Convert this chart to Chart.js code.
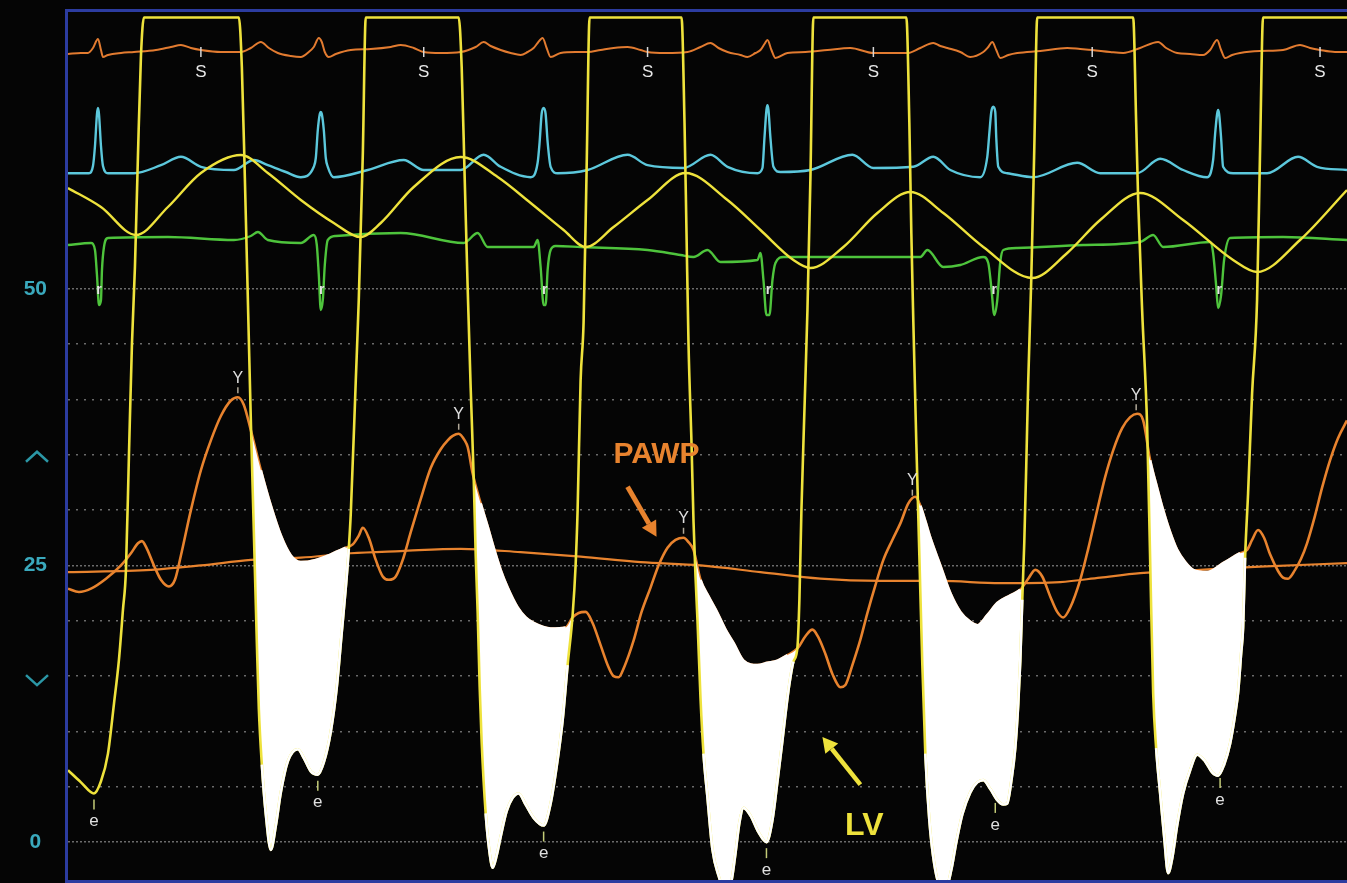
<!DOCTYPE html>
<html>
<head>
<meta charset="utf-8">
<title>LV and PAWP pressure tracing</title>
<script src="https://cdn.jsdelivr.net/npm/chart.js@4.4.1/dist/chart.umd.min.js"></script>
<style>
  html, body { margin: 0; padding: 0; background: #050505; }
  canvas { display: block; }
</style>
</head>
<body>
<canvas id="trace" width="1347" height="883"></canvas>
<script>
// time in samples (250 Hz, 4 ms each); pressures in mmHg
const lv = [[0,6.5],[13,5.4],[26,4.4],[33,5.5],[40,8],[46,12.5],[51,16.5],[55,21],[58,24.6],[61,35],[64,45],[67,52],[70,62],[73,71],[76,74.5],
  [171,74.5],[174,70],[177,60],[180,49],[183,38],[186,28],[189,18],[191,12],[194,7],[198,2.5],[203,-0.7],[208,1.5],[213,4.5],[220,7.3],[230,8.4],[236,7.6],[243,6.4],[250,6.1],[256,7.2],[263,10],[269,14],[274,19],[278,23],[281,26.5],[283,29.7],[288,41.7],[291,49],[295,62],[298,74.5],
  [391,74.5],[394,70],[397,60],[400,50],[403,41],[406,33],[408,26],[410,20.7],[412,14],[414,9],[418,2.6],[422,-1],[425,-2.3],[429,-1.2],[433,0.5],[439,2.8],[445,4],[451,4.4],[458,3.4],[466,2.2],[476,1.5],[483,3.5],[489,6.8],[495,11],[500,16],[505,20.5],[508,25],[510,30],[513,41.7],[516,47],[519,60.7],[522,74.5],
  [614,74.5],[617,65],[619,55],[621,45],[624,36],[626,29],[628,24],[630,20],[633,13],[636,8],[640,4],[645,-0.7],[651,-3],[658,-4.5],[664,-3.5],[668,-1],[672,1.8],[676,3.1],[683,2.4],[691,0.9],[699,0],[705,2],[710,5.5],[715,9.2],[721,13.7],[726,16.3],[730,17.6],[732,22],[734,30],[737,39],[740,48],[743,60],[746,74.5],
  [839,74.5],[842,65],[844,55],[846,47],[849,36],[852,26],[855,16],[858,8],[862,2],[867,-2],[873,-4],[879,-4],[884,-2.5],[889,0],[895,2.5],[903,4.5],[910,5.4],[916,5.6],[923,4.8],[930,3.8],[936,3.4],[940,3.5],[944,5.5],[948,8.5],[951,12.5],[953,16.4],[955,21.9],[957,27],[959,34],[961,41.7],[964,50.8],[967,62.5],[970,74.5],
  [1066,74.5],[1069,65],[1071,58],[1075,48],[1080,37.5],[1083,25.5],[1086,13.5],[1089,8.5],[1093,4.4],[1097,0.5],[1101,-2.8],[1105,-1.5],[1110,1.5],[1116,4.4],[1123,6.5],[1130,7.9],[1138,7.3],[1145,6.3],[1151,6],[1157,7],[1163,8.9],[1168,11.5],[1171,13.5],[1174,17],[1176,19.4],[1178,25.7],[1181,31.5],[1185,40.5],[1190,49],[1193,62.5],[1196,74.5],[1280,74.5]];

const pawp = [[0,22.9],[11,22.6],[23,22.9],[38,23.8],[53,25],[63,26.1],[70,27],[74,27.2],[79,26.5],[86,25],[93,23.7],[101,23.1],[107,23.7],[113,25.9],[123,30],[133,33.6],[143,36.3],[153,38.5],[163,39.9],[170,40.2],[176,39.5],[183,37.2],[193,33.6],[203,30.4],[213,27.7],[223,25.9],[233,25.3],[248,25.5],[263,26],[278,26.6],[285,26.9],[291,27.7],[295,28.4],[301,27.5],[308,25.5],[315,24],[321,23.7],[328,24],[335,25.5],[343,28],[353,31],[363,33.8],[373,35.5],[380,36.3],[385,36.7],[391,36.9],[397,36.3],[400,35.7],[405,33.3],[413,30.6],[420,28.5],[426,26.6],[433,24.6],[440,23],[450,21.2],[458,20.3],[466,19.8],[483,19.3],[498,19.4],[505,20.3],[511,20.7],[518,20.8],[525,19.8],[533,17.8],[541,15.8],[546,15],[551,14.9],[557,15.9],[566,18.2],[574,20.8],[583,23],[591,25],[600,26.6],[608,27.3],[616,27.5],[621,27.1],[626,26.4],[633,23.7],[641,22.2],[650,20.7],[658,19.2],[666,18],[676,16.4],[690,16],[700,16.2],[710,16.4],[720,16.9],[730,17.5],[738,18.6],[745,19.2],[751,18.5],[758,17],[765,15.2],[773,14],[778,14.2],[785,16],[793,18.3],[800,20.7],[808,23.2],[816,25.5],[825,27.3],[833,28.8],[841,30.6],[848,31.2],[853,30.4],[858,29],[863,27.5],[873,25],[883,22.5],[893,20.8],[903,19.9],[910,19.6],[920,20.5],[930,21.6],[943,22.3],[953,22.8],[961,23.8],[968,24.6],[975,24],[983,22.2],[990,20.8],[996,20.3],[1003,21.2],[1013,23.7],[1021,26.5],[1030,30],[1038,33],[1046,35.4],[1055,37.4],[1063,38.4],[1070,38.7],[1076,38.1],[1083,34.5],[1090,32],[1096,30],[1103,28],[1110,26.4],[1118,25.3],[1126,24.6],[1140,24.4],[1156,25.2],[1173,26.1],[1180,26.4],[1185,27.3],[1191,28.2],[1197,27.5],[1203,26],[1211,24.5],[1216,23.9],[1221,23.8],[1228,24.6],[1234,25.6],[1240,27],[1248,29.5],[1255,32],[1263,34.5],[1271,36.5],[1280,38.1]];

const pawpMean = [[0,24.4],[83,24.6],[133,25],[183,25.5],[233,25.7],[283,26.1],[333,26.3],[393,26.5],[453,26.2],[513,25.8],[573,25.3],[633,25],[693,24.4],[753,23.8],[813,23.6],[873,23.6],[933,23.4],[993,23.5],[1033,23.9],[1073,24.3],[1133,24.6],[1193,24.9],[1280,25.2]];

// auxiliary channels, arbitrary units around their own baselines
const auxPressure = [[0,-0.2],[13,-0.1],[20,-0.1],[25,0.4],[30,1.3],[33,0.2],[35,-0.5],[40,-0.3],[53,-0.1],[66,0],[88,0.2],[103,0.5],[113,0.7],[123,0.4],[133,0.2],[153,0],[173,0],[183,0.4],[193,1.0],[201,0.4],[210,-0.1],[223,-0.4],[233,-0.5],[241,0],[246,0.5],[251,1.4],[254,1.0],[257,0],[261,-0.5],[268,-0.2],[283,0.2],[303,0.3],[323,0.5],[333,0.7],[346,0.4],[356,0],[373,-0.1],[393,0],[408,0.5],[416,1.0],[423,0.6],[433,0.2],[443,-0.1],[453,-0.3],[460,0],[466,0.4],[470,0.9],[475,1.4],[479,0.4],[483,-0.5],[493,-0.1],[508,0],[520,0],[533,0.2],[546,0.4],[560,0.5],[573,0.2],[580,0],[598,-0.1],[620,0],[633,0.5],[643,0.9],[651,0.4],[660,0],[673,-0.3],[680,-0.5],[688,-0.1],[693,0.2],[697,0.8],[700,1.2],[704,0.2],[708,-0.6],[720,-0.1],[738,0],[760,0.2],[783,0.4],[806,-0.1],[823,-0.1],[840,-0.1],[853,0.4],[866,0.9],[873,0.6],[880,0.4],[893,0],[903,-0.5],[916,0],[921,0.5],[925,1.0],[929,0.2],[933,-0.6],[941,-0.3],[950,-0.1],[973,0.1],[1000,0.4],[1013,0.3],[1025,0.2],[1043,0],[1056,-0.1],[1073,0.4],[1091,1.0],[1099,0.4],[1110,-0.1],[1123,-0.2],[1136,-0.3],[1143,0.2],[1150,1.2],[1154,0.2],[1158,-0.6],[1165,-0.3],[1173,-0.1],[1193,0.1],[1216,0.2],[1233,0.7],[1243,0.4],[1253,0.2],[1268,0],[1280,0]];

const ecg = [[0,-0.08],[21,-0.08],[25,0.1],[27,0.6],[29,1.4],[30,1.55],[31,1.4],[33,0.6],[35,0.1],[40,-0.08],[66,-0.08],[93,0.12],[113,0.33],[133,0.08],[166,0],[186,0.25],[200,0.12],[218,-0.05],[233,-0.18],[246,0.08],[248,0.3],[250,1.0],[252,1.4],[253,1.45],[254,1.4],[256,1.0],[258,0.3],[260,0.08],[266,-0.18],[300,0],[336,0.25],[356,0],[393,0],[416,0.38],[433,0.08],[463,-0.18],[470,0.18],[472,0.7],[474,1.4],[476,1.55],[478,1.4],[480,0.7],[483,0.08],[490,-0.08],[520,0],[560,0.38],[580,0.12],[616,0.05],[643,0.38],[660,0.08],[690,-0.08],[695,0.05],[697,0.8],[699,1.5],[700,1.62],[701,1.5],[703,0.8],[706,0.08],[713,-0.05],[743,0],[785,0.38],[806,0.05],[846,0.08],[866,0.33],[883,0],[913,-0.18],[920,0.33],[922,0.9],[924,1.45],[926,1.58],[928,1.45],[929,0.8],[931,0.08],[940,-0.08],[966,-0.18],[1010,0.18],[1033,-0.08],[1070,-0.08],[1093,0.28],[1116,0],[1140,-0.18],[1146,0.25],[1148,0.9],[1150,1.4],[1151,1.5],[1152,1.4],[1154,0.8],[1156,0.08],[1166,-0.08],[1200,-0.08],[1231,0.33],[1250,0.08],[1280,0]];

const resp = [[0,0.84],[33,0.46],[68,-0.1],[100,0.46],[133,1.14],[173,1.5],[200,1.14],[233,0.6],[266,0.14],[293,-0.14],[313,0.14],[346,0.86],[393,1.46],[430,1.06],[463,0.54],[496,0],[518,-0.34],[546,0.06],[580,0.6],[618,1.14],[660,0.6],[693,0],[726,-0.6],[743,-0.76],[776,-0.34],[810,0.34],[843,0.76],[876,0.34],[916,-0.34],[965,-0.96],[1000,-0.46],[1033,0.2],[1073,0.74],[1116,0.2],[1166,-0.6],[1190,-0.84],[1233,-0.2],[1280,0.8]];

const lead = [[0,-0.25],[23,-0.15],[27,-0.5],[29,-1.75],[31,-3.25],[33,-3],[34,-1.5],[36,-0.35],[40,0.1],[100,0.15],[166,0],[183,0.2],[190,0.4],[200,0],[233,-0.15],[246,0.25],[249,-0.25],[251,-1.75],[253,-3.5],[255,-3],[257,-1.25],[260,0],[268,0.2],[333,0.35],[396,-0.15],[410,0.35],[420,-0.35],[466,-0.35],[470,0],[473,-1.35],[476,-3.25],[478,-3.25],[480,-1.5],[483,-0.5],[488,-0.3],[513,-0.35],[580,-0.5],[613,-0.75],[626,-0.85],[640,-0.5],[653,-1.1],[690,-1],[693,-0.65],[696,-2],[699,-3.75],[702,-3.75],[705,-2],[708,-1.15],[716,-0.85],[760,-0.85],[853,-0.85],[860,-0.5],[876,-1.35],[893,-1.25],[916,-0.85],[921,-1.15],[924,-2.35],[927,-3.75],[930,-3],[933,-1.1],[936,-0.5],[950,-0.4],[1016,-0.25],[1073,-0.1],[1086,0.25],[1096,-0.35],[1143,-0.1],[1146,-0.65],[1149,-2.25],[1151,-3.4],[1154,-2.75],[1157,-1],[1163,0.1],[1216,0.15],[1280,0]];

// event marks (sample times)
const sMarks = [133, 356, 580, 806, 1025, 1253];
const rMarks = [30, 253, 476, 700, 926, 1151];
const yWaves = [170, 391, 616, 845, 1069];
const eMarks = [26, 250, 476, 699, 928, 1153];

const AREA_TOP = 12, AREA_BOTTOM = 882;
function band(basePx, pxPerUnit) {
  return { min: -(AREA_BOTTOM - basePx) / pxPerUnit, max: (basePx - AREA_TOP) / pxPerUnit };
}

function valueAt(series, t) {
  for (let i = 1; i < series.length; i++) {
    if (series[i][0] >= t) {
      const [t0, v0] = series[i - 1], [t1, v1] = series[i];
      return v0 + (v1 - v0) * (t - t0) / (t1 - t0);
    }
  }
  return series[series.length - 1][1];
}

const pts = s => s.map(([x, y]) => ({ x, y }));

function trace(label, data, color, width, axis, order, extra) {
  return Object.assign({
    label, data: pts(data), borderColor: color, borderWidth: width,
    yAxisID: axis, order, pointRadius: 0, fill: false, tension: 0,
    cubicInterpolationMode: 'monotone'
  }, extra || {});
}

const YELLOW = '#eee23c', ORANGE = '#e8832e', NONE = 'rgba(0,0,0,0)';
const gradientPawp = pawp.filter(p => p[0] >= 170);

// white edge of the diastolic gradient: LV floor (not its steep fall) and PAWP roof
function lvEdge(c) {
  const a = c.p0.parsed, b = c.p1.parsed;
  const under = a.x >= 170 && a.y < valueAt(pawp, a.x) && b.y < valueAt(pawp, b.x);
  const falling = (b.y - a.y) / (b.x - a.x) < -1.5;
  return under && !falling ? '#ffffff' : NONE;
}
function pawpEdge(c) {
  const a = c.p0.parsed, b = c.p1.parsed;
  return (a.y > valueAt(lv, a.x) && b.y > valueAt(lv, b.x)) ? '#ffffff' : NONE;
}

function arrow(ctx, x0, y0, x1, y1, color, w, head) {
  const a = Math.atan2(y1 - y0, x1 - x0);
  const bx = x1 - head * Math.cos(a), by = y1 - head * Math.sin(a);
  ctx.strokeStyle = color; ctx.fillStyle = color; ctx.lineWidth = w;
  ctx.beginPath(); ctx.moveTo(x0, y0); ctx.lineTo(bx, by); ctx.stroke();
  ctx.beginPath(); ctx.moveTo(x1, y1);
  ctx.lineTo(bx + head * 0.55 * Math.sin(a), by - head * 0.55 * Math.cos(a));
  ctx.lineTo(bx - head * 0.55 * Math.sin(a), by + head * 0.55 * Math.cos(a));
  ctx.closePath(); ctx.fill();
}

const overlay = {
  id: 'overlay',
  afterDatasetsDraw(chart) {
    const { ctx, scales } = chart;
    const x = scales.x, y = scales.y;
    ctx.save();
    ctx.textAlign = 'center';
    ctx.textBaseline = 'middle';

    // S marks on the top channel
    ctx.font = '17px "Liberation Sans", Arial, sans-serif';
    sMarks.forEach(t => {
      const px = x.getPixelForValue(t), py = scales.yAux.getPixelForValue(0);
      ctx.strokeStyle = '#d8d8d8'; ctx.lineWidth = 1.5;
      ctx.beginPath(); ctx.moveTo(px, py - 5); ctx.lineTo(px, py + 5); ctx.stroke();
      ctx.fillStyle = '#e8e8e8'; ctx.fillText('S', px, py + 20);
    });

    // r marks on the green channel
    ctx.font = 'bold 14px "Liberation Sans", Arial, sans-serif';
    rMarks.forEach(t => {
      ctx.fillStyle = '#e4e4e4';
      ctx.fillText('r', x.getPixelForValue(t) + 1, scales.yLead.getPixelForValue(-2.5));
    });

    // Y marks at PAWP peaks
    ctx.font = '16px "Liberation Sans", Arial, sans-serif';
    yWaves.forEach(t => {
      const px = x.getPixelForValue(t), py = y.getPixelForValue(valueAt(pawp, t));
      ctx.strokeStyle = '#b0a898'; ctx.lineWidth = 1.5;
      ctx.beginPath(); ctx.moveTo(px, py - 10); ctx.lineTo(px, py - 4); ctx.stroke();
      ctx.fillStyle = '#e0e0e0'; ctx.fillText('Y', px, py - 19);
    });

    // e marks at LV early diastole
    ctx.font = '17px "Liberation Sans", Arial, sans-serif';
    eMarks.forEach(t => {
      const px = x.getPixelForValue(t), py = y.getPixelForValue(valueAt(lv, t));
      ctx.strokeStyle = '#c4cc78'; ctx.lineWidth = 1.5;
      ctx.beginPath(); ctx.moveTo(px, py + 6); ctx.lineTo(px, py + 16); ctx.stroke();
      ctx.fillStyle = '#e0e0e0'; ctx.fillText('e', px, py + 28);
    });

    // callouts
    ctx.font = 'bold 30px "Liberation Sans", Arial, sans-serif';
    ctx.fillStyle = ORANGE;
    ctx.fillText('PAWP', x.getPixelForValue(589), y.getPixelForValue(35));
    arrow(ctx, x.getPixelForValue(560), y.getPixelForValue(32.1), x.getPixelForValue(589), y.getPixelForValue(27.6), ORANGE, 5, 15);

    ctx.font = 'bold 32px "Liberation Sans", Arial, sans-serif';
    ctx.fillStyle = YELLOW;
    ctx.fillText('LV', x.getPixelForValue(797), y.getPixelForValue(1.45));
    arrow(ctx, x.getPixelForValue(793), y.getPixelForValue(5.2), x.getPixelForValue(755), y.getPixelForValue(9.5), YELLOW, 4.5, 15);
    ctx.restore();
  },
  afterDraw(chart) {
    const { ctx, chartArea: a, scales } = chart;
    ctx.save();
    ctx.strokeStyle = '#2c3ca0'; ctx.lineWidth = 3;
    ctx.beginPath();
    ctx.moveTo(a.right, a.bottom - 0.5); ctx.lineTo(a.left - 1.5, a.bottom - 0.5);
    ctx.lineTo(a.left - 1.5, a.top - 1.5); ctx.lineTo(a.right, a.top - 1.5);
    ctx.stroke();
    // up / down chevrons on the pressure scale
    ctx.strokeStyle = '#2b97a6'; ctx.lineWidth = 2.5;
    const up = scales.y.getPixelForValue(35) + 2, dn = scales.y.getPixelForValue(15) + 4;
    ctx.beginPath(); ctx.moveTo(26, up + 5); ctx.lineTo(37, up - 5); ctx.lineTo(48, up + 5); ctx.stroke();
    ctx.beginPath(); ctx.moveTo(26, dn - 5); ctx.lineTo(37, dn + 5); ctx.lineTo(48, dn - 5); ctx.stroke();
    ctx.restore();
  }
};

new Chart(document.getElementById('trace'), {
  type: 'line',
  data: {
    datasets: [
      trace('LV', lv, YELLOW, 2.6, 'y', 1),
      trace('PAWP', pawp, ORANGE, 2.6, 'y', 3),
      trace('PAWP mean', pawpMean, ORANGE, 2.2, 'y', 4),
      trace('Respiration', resp, YELLOW, 2.4, 'yResp', 5),
      trace('ECG', ecg, '#5cc8dc', 2.4, 'yEcg', 6),
      trace('Lead', lead, '#4ec43c', 2.4, 'yLead', 7),
      trace('Aux', auxPressure, '#e27b30', 2.0, 'yAux', 8),
      trace('Gradient', gradientPawp, NONE, 0, 'y', 2, {
        fill: { target: 0, above: '#ffffff', below: NONE }
      }),
      trace('LV floor', lv, NONE, 2.6, 'y', 0, { segment: { borderColor: lvEdge } }),
      trace('PAWP roof', gradientPawp, NONE, 2.6, 'y', 0, { segment: { borderColor: pawpEdge } })
    ]
  },
  options: {
    responsive: false,
    animation: false,
    layout: { padding: { top: AREA_TOP, bottom: 883 - AREA_BOTTOM, left: 0, right: 0 } },
    plugins: { legend: { display: false }, tooltip: { enabled: false } },
    scales: {
      x: { type: 'linear', min: 0, max: 1280, display: false },
      y: {
        min: -3.6, max: 75,
        afterFit: s => { s.width = 68; s.paddingTop = 0; s.paddingBottom = 0; },
        border: {
          display: false,
          dash: c => (c.tick && c.tick.value % 25 === 0) ? [2, 2] : [2, 6]
        },
        grid: {
          drawTicks: false,
          lineWidth: 1.5,
          color: c => {
            const v = c.tick.value;
            return (v >= 0 && v <= 50 && Math.abs(v % 5) < 1e-6) ? 'rgba(175,175,175,0.6)' : NONE;
          }
        },
        ticks: {
          stepSize: 5,
          autoSkip: false,
          crossAlign: 'center',
          padding: 21,
          color: '#3aa9bd',
          font: { family: '"Liberation Sans", Arial, sans-serif', size: 21, weight: 'bold' },
          callback: v => (v === 0 || v === 25 || v === 50) ? String(v) : ''
        }
      },
      yAux: Object.assign({ display: false }, band(52, 10)),
      yEcg: Object.assign({ display: false }, band(170, 40)),
      yResp: Object.assign({ display: false }, band(230, 50)),
      yLead: Object.assign({ display: false }, band(240, 20))
    }
  },
  plugins: [overlay]
});
</script>
</body>
</html>
